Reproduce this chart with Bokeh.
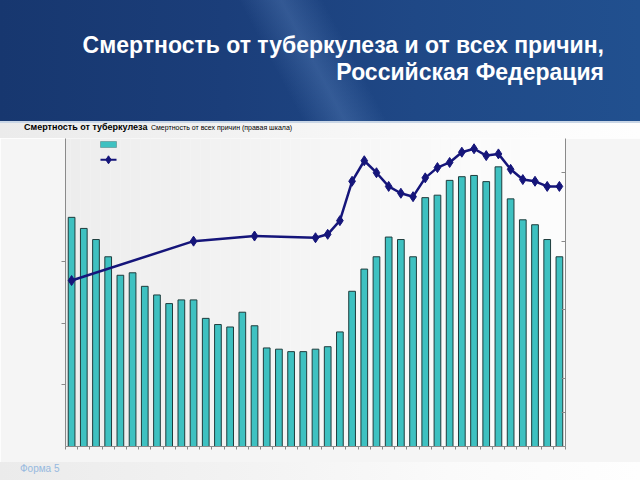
from bokeh.plotting import figure
from bokeh.layouts import column
from bokeh.models import Range1d, LinearAxis, FixedTicker, BoxAnnotation, Div
from bokeh.embed import file_html
from bokeh.resources import INLINE

# ---- data ----
years = list(range(1970, 2011))
tb_mortality = [18.6, 17.7, 16.8, 15.4, 13.9, 14.1, 13.0, 12.3, 11.6, 11.9,
                11.9, 10.4, 9.9, 9.7, 10.9, 9.8, 8.0, 7.9, 7.7, 7.7,
                7.9, 8.1, 9.3, 12.6, 14.4, 15.4, 17.0, 16.8, 15.4, 20.2,
                20.4, 21.6, 21.9, 22.0, 21.5, 22.7, 20.1, 18.4, 18.0, 16.8,
                15.4]
line_years = [1970, 1980, 1985] + list(range(1990, 2011))
all_cause = [8.7, 11.0, 11.3, 11.2, 11.4, 12.2, 14.5, 15.7, 15.0, 14.2,
             13.8, 13.6, 14.7, 15.3, 15.6, 16.2, 16.4, 16.0, 16.1, 15.2,
             14.6, 14.5, 14.2, 14.2]
left_ticks = [5, 10, 15]
right_ticks = [1, 3, 7, 11, 15]

title_1 = "Смертность от туберкулеза и от всех причин,"
title_2 = "Российская Федерация"
legend_tb = "Смертность от туберкулеза"
legend_all_full = "Смертность от всех причин (правая шкала)"
footer = "Форма 5"

BAR = "#3ec1c1"
BAR_EDGE = "#1f3d3d"
LINE = "#15157a"
AX = "#8a8a8a"
FONT = "'Liberation Sans', Arial, sans-serif"
TOP_H, MAIN_H, W = 138, 324, 640
BOT_H = 480 - TOP_H - MAIN_H
BG_CSS = "linear-gradient(90deg,#ebebeb 0%,#f3f3f3 40%,#fafafa 70%,#fefefe 100%)"


def lerp(c1, c2, t):
    a = [int(c1[i:i + 2], 16) for i in (1, 3, 5)]
    b = [int(c2[i:i + 2], 16) for i in (1, 3, 5)]
    return "#%02x%02x%02x" % tuple(round(a[k] + (b[k] - a[k]) * t) for k in range(3))


def grad(stops, x):
    for (x0, c0), (x1, c1) in zip(stops, stops[1:]):
        if x0 <= x <= x1:
            return lerp(c0, c1, (x - x0) / (x1 - x0))
    return stops[-1][1]


bg_stops = [(0, "#ebebeb"), (256, "#f3f3f3"), (448, "#fafafa"), (640, "#fefefe")]

# ---------------- header (slide banner, title, legend text) ----------------
header_html = f"""
<div style="position:relative;width:{W}px;height:{TOP_H}px;overflow:hidden;background:{BG_CSS};">
 <div style="position:absolute;left:0;top:0;width:{W}px;height:121px;
      background:linear-gradient(62deg, rgba(120,160,215,0) 43%, rgba(120,160,215,0.25) 49%, rgba(120,160,215,0) 55%),
                 linear-gradient(90deg,#17376f 0%,#1b3e7a 35%,#1f4886 65%,#21508f 100%);"></div>
 <div style="position:absolute;left:0;top:121px;width:{W}px;height:2px;background:#c9d6e6;"></div>
 <div style="position:absolute;right:36px;top:32px;text-align:right;color:#ffffff;
      font-family:{FONT};font-weight:bold;font-size:23px;line-height:27px;white-space:nowrap;">{title_1}<br>{title_2}</div>
 <div style="position:absolute;left:24px;top:122px;color:#000;font-family:{FONT};font-weight:bold;
      font-size:9px;line-height:11px;white-space:nowrap;">{legend_tb}</div>
 <div style="position:absolute;left:151px;top:123px;color:#000;font-family:{FONT};
      font-size:7px;line-height:10px;white-space:nowrap;">{legend_all_full}</div>
</div>"""
header = Div(text=header_html, width=W, height=TOP_H, margin=0)

# ---------------- main chart ----------------
p = figure(width=W, height=MAIN_H, x_range=Range1d(1969.5, 2010.5), y_range=Range1d(0, 25),
           output_backend="svg", toolbar_location=None,
           min_border_left=65, min_border_right=75, min_border_top=0, min_border_bottom=MAIN_H - 308)
p.extra_y_ranges = {"right": Range1d(-1, 17), "px": Range1d(446, 138)}
p.extra_x_ranges = {"px": Range1d(65, 565)}
p.border_fill_color = "#f5f5f5"
p.background_fill_color = None
p.outline_line_color = None
p.grid.visible = False

for x0 in range(0, W, 10):
    c = grad(bg_stops, x0 + 5)
    p.add_layout(BoxAnnotation(left=x0, right=x0 + 10, top=0, bottom=480,
                               x_range_name="px", y_range_name="px",
                               fill_color=c, fill_alpha=1, line_color=c, level="underlay"))

p.vbar(x=years, top=tb_mortality, width=0.55, fill_color=BAR, line_color=BAR_EDGE, line_width=1)
p.line(line_years, all_cause, y_range_name="right", line_color=LINE, line_width=2.5)
p.scatter(line_years, all_cause, y_range_name="right", marker="diamond", size=10,
          fill_color=LINE, line_color=LINE)

# legend swatches (pixel space of the slide)
p.add_layout(BoxAnnotation(left=100, right=116, top=141, bottom=147, x_range_name="px", y_range_name="px",
                           fill_color=BAR, fill_alpha=1, line_color=BAR_EDGE, line_width=1))
p.add_layout(BoxAnnotation(left=100, right=116, top=158.3, bottom=160.3, x_range_name="px", y_range_name="px",
                           fill_color=LINE, fill_alpha=1, line_color=None))
p.scatter(x=[108], y=[159.3], x_range_name="px", y_range_name="px", marker="diamond", size=8,
          fill_color=LINE, line_color=LINE)

xa = p.xaxis[0]
xa.ticker = FixedTicker(ticks=[y - 0.5 for y in years] + [years[-1] + 0.5])
ya = p.yaxis[0]
ya.ticker = FixedTicker(ticks=left_ticks)
ra = LinearAxis(y_range_name="right", ticker=FixedTicker(ticks=right_ticks))
p.add_layout(ra, "right")
for ax in (xa, ya, ra):
    ax.major_label_text_color = None
    ax.major_label_text_font_size = "1px"
    ax.major_label_standoff = 0
    ax.minor_tick_line_color = None
    ax.axis_line_color = AX
    ax.major_tick_line_color = AX
    ax.major_tick_out = 4
    ax.major_tick_in = 0
ra.major_tick_out = 0
ra.major_tick_in = 4
xa.major_tick_out = 3

# ---------------- footer ----------------
footer_html = f"""
<div style="position:relative;width:{W}px;height:{BOT_H}px;overflow:hidden;background:{BG_CSS};">
 <div style="position:absolute;left:20px;top:2px;color:#96b9df;font-family:{FONT};
      font-size:10px;line-height:10px;white-space:nowrap;">{footer}</div>
</div>"""
foot = Div(text=footer_html, width=W, height=BOT_H, margin=0)

layout = column(header, p, foot, spacing=0)
open("out.html", "w").write(file_html(layout, INLINE))
